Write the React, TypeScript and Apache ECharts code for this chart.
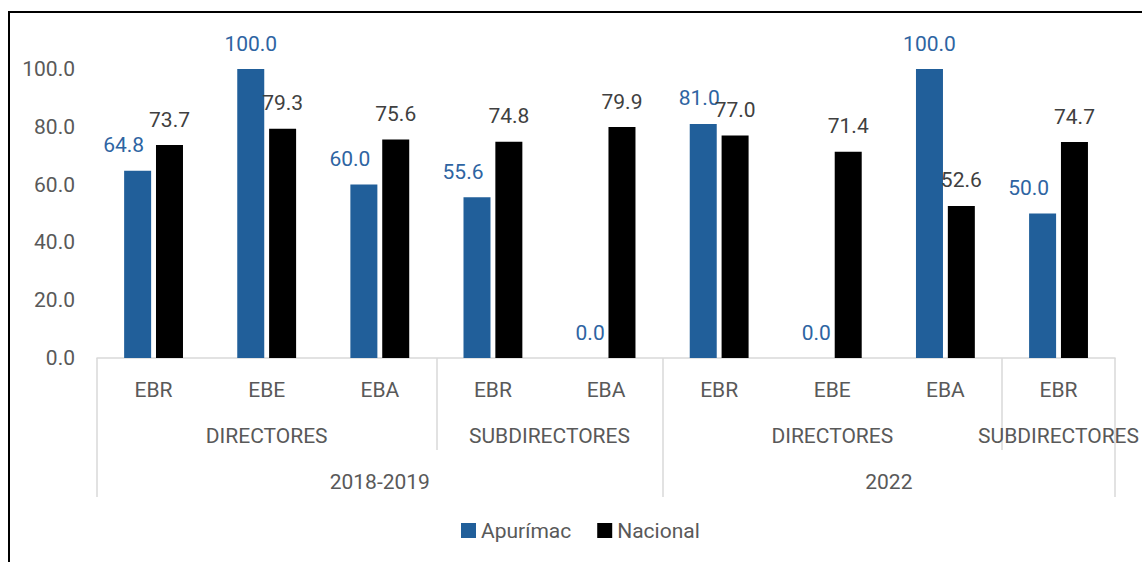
import React, { useEffect, useRef } from "react";
import * as echarts from "echarts";

const categories = ["EBR", "EBE", "EBA", "EBR", "EBA", "EBR", "EBE", "EBA", "EBR"];
const roleNames = ["DIRECTORES", "SUBDIRECTORES", "DIRECTORES", "SUBDIRECTORES"];
const roleSpans = [3, 2, 3, 1];
const periodNames = ["2018-2019", "2022"];
const periodSpans = [5, 4];
const apurimac = [64.8, 100.0, 60.0, 55.6, 0.0, 81.0, 0.0, 100.0, 50.0];
const nacional = [73.7, 79.3, 75.6, 74.8, 79.9, 77.0, 71.4, 52.6, 74.7];
const yTicks = [0, 20, 40, 60, 80, 100];

function spansInfo(spans: number[]) {
  const bounds = [0];
  const centers: number[] = [];
  spans.forEach((s) => {
    const start = bounds[bounds.length - 1];
    centers.push(start + s / 2);
    bounds.push(start + s);
  });
  return { bounds, centers };
}

const FONT = "Roboto";
const GRAY = "#595959";
const LINE = "#D9D9D9";

export default function App() {
  const ref = useRef<HTMLDivElement>(null);
  useEffect(() => {
    if (!ref.current) return;
    const chart = echarts.init(ref.current, null, { renderer: "svg" });
    const role = spansInfo(roleSpans);
    const period = spansInfo(periodSpans);
    const innerBounds = role.bounds.filter((b) => !period.bounds.includes(b));
    const nameAt = (centers: number[], names: string[]) => (v: number) => {
      const i = centers.findIndex((c) => Math.abs(c - v) < 1e-6);
      return i >= 0 ? names[i] : "";
    };
    const total = categories.length;

    chart.setOption({
      animation: false,
      backgroundColor: "#ffffff",
      textStyle: { fontFamily: FONT },
      grid: { left: 97, right: 26, top: 69, bottom: 204 },
      legend: {
        left: 461,
        top: 520,
        padding: 0,
        icon: "rect",
        itemWidth: 15,
        itemHeight: 15,
        itemGap: 26,
        textStyle: { fontSize: 21, color: GRAY, fontFamily: FONT },
        data: ["Apurímac", "Nacional"],
      },
      graphic: [
        {
          type: "rect",
          silent: true,
          shape: { x: 9, y: 12, width: 1300, height: 800 },
          style: { fill: "none", stroke: "#000000", lineWidth: 2 },
        },
      ],
      xAxis: [
        {
          type: "category",
          data: categories,
          position: "bottom",
          axisLine: { lineStyle: { color: LINE, width: 1.5 } },
          axisTick: { show: false },
          axisLabel: { fontSize: 21, color: GRAY, margin: 21, fontFamily: FONT },
        },
        {
          type: "value",
          min: 0,
          max: total,
          position: "bottom",
          offset: 0,
          axisLine: { show: false },
          splitLine: { show: false },
          axisTick: {
            show: true,
            customValues: innerBounds,
            length: 92,
            lineStyle: { color: LINE, width: 1.5 },
          },
          axisLabel: {
            customValues: role.centers,
            formatter: nameAt(role.centers, roleNames),
            fontSize: 21,
            color: GRAY,
            margin: 67,
            fontFamily: FONT,
          },
        },
        {
          type: "value",
          min: 0,
          max: total,
          position: "bottom",
          offset: 0,
          axisLine: { show: false },
          splitLine: { show: false },
          axisTick: {
            show: true,
            customValues: period.bounds,
            length: 139,
            lineStyle: { color: LINE, width: 1.5 },
          },
          axisLabel: {
            customValues: period.centers,
            formatter: nameAt(period.centers, periodNames),
            fontSize: 21,
            color: GRAY,
            margin: 113,
            fontFamily: FONT,
          },
        },
      ],
      yAxis: {
        type: "value",
        min: yTicks[0],
        max: yTicks[yTicks.length - 1],
        interval: yTicks[1] - yTicks[0],
        axisLine: { show: false },
        axisTick: { show: false },
        splitLine: { show: false },
        axisLabel: {
          fontSize: 21,
          color: GRAY,
          margin: 22,
          fontFamily: FONT,
          formatter: (v: number) => v.toFixed(1),
        },
      },
      series: [
        {
          name: "Apurímac",
          type: "bar",
          xAxisIndex: 0,
          barWidth: 27,
          barGap: "18%",
          itemStyle: { color: "#215F9A" },
          data: apurimac.map((v, i) => {
            const d = nacional[i] - v;
            const shift = d > 0 && d < 30 ? -14 : d <= 0 && d > -10 ? -4 : 0;
            return {
              value: v,
              label: { offset: [shift, 0] },
            };
          }),
          label: {
            show: true,
            position: "top",
            distance: 15,
            fontSize: 21,
            lineHeight: 21,
            color: "#2E64A2",
            fontFamily: FONT,
            formatter: (p: any) => Number(p.value).toFixed(1),
          },
        },
        {
          name: "Nacional",
          type: "bar",
          xAxisIndex: 0,
          barWidth: 27,
          itemStyle: { color: "#000000" },
          data: nacional,
          label: {
            show: true,
            position: "top",
            distance: 15,
            fontSize: 21,
            lineHeight: 21,
            color: "#404040",
            fontFamily: FONT,
            formatter: (p: any) => Number(p.value).toFixed(1),
          },
        },
      ],
    });
    return () => chart.dispose();
  }, []);

  return (
    <div
      ref={ref}
      style={{ position: "absolute", left: 0, top: 0, width: 1142, height: 562 }}
    />
  );
}
